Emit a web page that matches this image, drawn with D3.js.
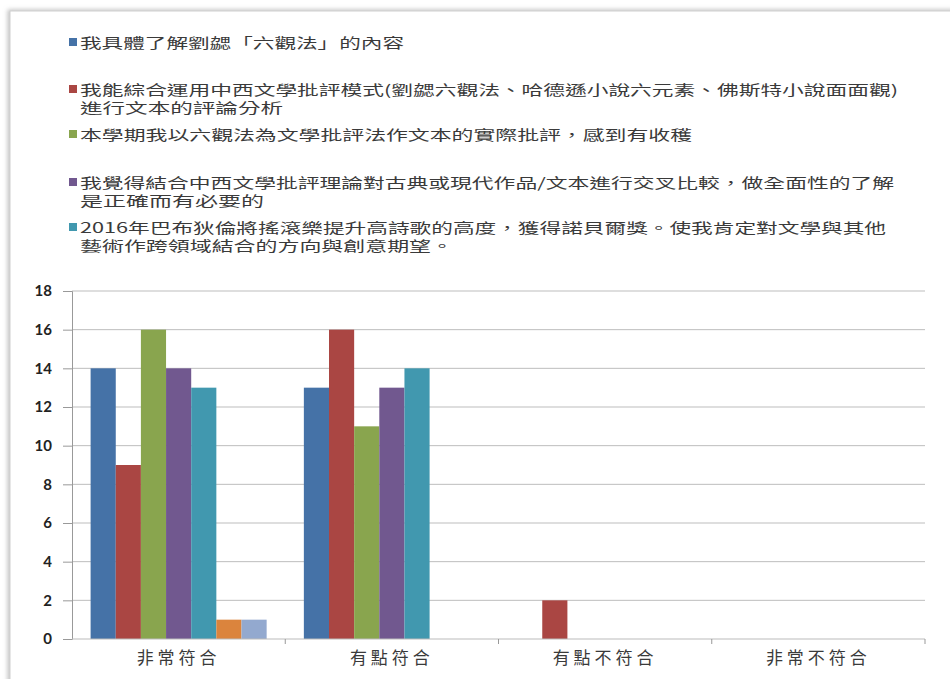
<!DOCTYPE html>
<html>
<head>
<meta charset="utf-8">
<script src="https://cdn.jsdelivr.net/npm/d3@7"></script>
<style>
  body { margin: 0; background: #fff; }
  svg { display: block; }
  .legend-text { font-family: "Noto Sans CJK TC", sans-serif; font-size: 14px; fill: #3a3a3a; }
  .cat-label { font-family: "Noto Sans CJK TC", sans-serif; font-size: 17px; fill: #3a3a3a; }
  .y-label { font-family: Lato, "Liberation Sans", sans-serif; font-size: 15px; font-weight: bold; fill: #222; }
</style>
</head>
<body>
<svg id="chart"></svg>
<script>
var categories = ["非常符合", "有點符合", "有點不符合", "非常不符合"];

var seriesNames = [
    ["我具體了解劉勰「六觀法」的內容"],
    ["我能綜合運用中西文學批評模式(劉勰六觀法、哈德遜小說六元素、佛斯特小說面面觀)", "進行文本的評論分析"],
    ["本學期我以六觀法為文學批評法作文本的實際批評，感到有收穫"],
    ["我覺得結合中西文學批評理論對古典或現代作品/文本進行交叉比較，做全面性的了解", "是正確而有必要的"],
    ["2016年巴布狄倫將搖滾樂提升高詩歌的高度，獲得諾貝爾獎。使我肯定對文學與其他", "藝術作跨領域結合的方向與創意期望。"]
];

// values per series, one per category
var s1 = [14, 13, 0, 0];
var s2 = [9, 16, 2, 0];
var s3 = [16, 11, 0, 0];
var s4 = [14, 13, 0, 0];
var s5 = [13, 14, 0, 0];
var s6 = [1, 0, 0, 0];
var s7 = [1, 0, 0, 0];
var series = [s1, s2, s3, s4, s5, s6, s7];

var yTicks = [0, 2, 4, 6, 8, 10, 12, 14, 16, 18];

var colors = ["#4572A7", "#AA4643", "#89A54E", "#71588F", "#4198AF", "#DB843D", "#93A9CF"];

var width = 950, height = 679;
var plotLeft = 72, plotRight = 925, plotTop = 291, plotBottom = 639;

var svg = d3.select("#chart")
    .attr("width", width)
    .attr("height", height);

// frame with soft shadow on the left and top
var defs = svg.append("defs");
var filt = defs.append("filter").attr("id", "shadow")
    .attr("x", "-5%").attr("y", "-5%").attr("width", "110%").attr("height", "110%");
filt.append("feDropShadow")
    .attr("dx", -2).attr("dy", -1).attr("stdDeviation", 2)
    .attr("flood-color", "#999").attr("flood-opacity", 0.6);

svg.append("rect")
    .attr("x", 10).attr("y", 11)
    .attr("width", 960).attr("height", 700)
    .attr("fill", "#fff")
    .attr("stroke", "#d0d0d0")
    .attr("filter", "url(#shadow)");

// legend
var legendLines = [[43], [90, 108], [135], [183, 201], [228, 246]];
var legendWidths = [[324], [818, 203], [612], [814, 184], [806, 373]];

var legend = svg.append("g");
seriesNames.forEach(function(lines, i) {
    legend.append("rect")
        .attr("x", 69)
        .attr("y", legendLines[i][0] - 5)
        .attr("width", 8)
        .attr("height", 8)
        .attr("fill", colors[i]);
    lines.forEach(function(t, j) {
        legend.append("text")
            .attr("class", "legend-text")
            .attr("x", 80)
            .attr("y", legendLines[i][j] + 5)
            .attr("textLength", legendWidths[i][j])
            .attr("lengthAdjust", "spacingAndGlyphs")
            .text(t);
    });
});

// scales
var y = d3.scaleLinear()
    .domain([0, 18])
    .range([plotBottom, plotTop]);

var x0 = d3.scaleBand()
    .domain(categories)
    .range([plotLeft, plotRight])
    .padding(0);

var x1 = d3.scaleBand()
    .domain(d3.range(series.length))
    .range([0, x0.bandwidth()])
    .paddingInner(0)
    .paddingOuter(0.74);

// gridlines
svg.append("g")
    .selectAll("line")
    .data(yTicks.filter(function(d) { return d > 0; }))
    .enter().append("line")
        .attr("x1", plotLeft)
        .attr("x2", plotRight)
        .attr("y1", function(d) { return y(d); })
        .attr("y2", function(d) { return y(d); })
        .attr("stroke", "#bdbdbd")
        .attr("stroke-width", 1);

// bars
var groups = svg.append("g")
    .selectAll("g")
    .data(categories)
    .enter().append("g")
        .attr("transform", function(d) {
            return "translate(" + x0(d) + ",0)";
        });

groups.selectAll("rect")
    .data(function(d, ci) {
        return series.map(function(s, si) { return {si: si, v: s[ci]}; });
    })
    .enter().append("rect")
        .filter(function(d) { return d.v > 0; })
        .attr("x", function(d) { return x1(d.si); })
        .attr("width", x1.bandwidth())
        .attr("y", function(d) { return y(d.v); })
        .attr("height", function(d) { return y(0) - y(d.v); })
        .attr("fill", function(d) { return colors[d.si]; });

// y axis
var yAxis = svg.append("g")
    .attr("transform", "translate(" + plotLeft + ",0)")
    .call(d3.axisLeft(y).tickValues(yTicks).tickSize(9).tickPadding(11));
yAxis.select(".domain").attr("stroke", "#999");
yAxis.selectAll(".tick line").attr("stroke", "#999");
yAxis.selectAll(".tick text").attr("class", "y-label");

// x axis
var xAxis = svg.append("g")
    .attr("transform", "translate(0," + plotBottom + ")");
xAxis.append("line")
    .attr("x1", plotLeft).attr("x2", plotRight)
    .attr("y1", 0).attr("y2", 0)
    .attr("stroke", "#bbb");
xAxis.selectAll(".xtick")
    .data(categories)
    .enter().append("line")
        .attr("x1", function(d) { return x0(d) + x0.bandwidth(); })
        .attr("x2", function(d) { return x0(d) + x0.bandwidth(); })
        .attr("y1", 0).attr("y2", 5)
        .attr("stroke", "#999");
xAxis.selectAll(".cat-label")
    .data(categories)
    .enter().append("text")
        .attr("class", "cat-label")
        .attr("x", function(d) { return x0(d) + x0.bandwidth() / 2; })
        .attr("y", 25)
        .attr("text-anchor", "middle")
        .attr("letter-spacing", "4px")
        .text(function(d) { return d; });
</script>
</body>
</html>
